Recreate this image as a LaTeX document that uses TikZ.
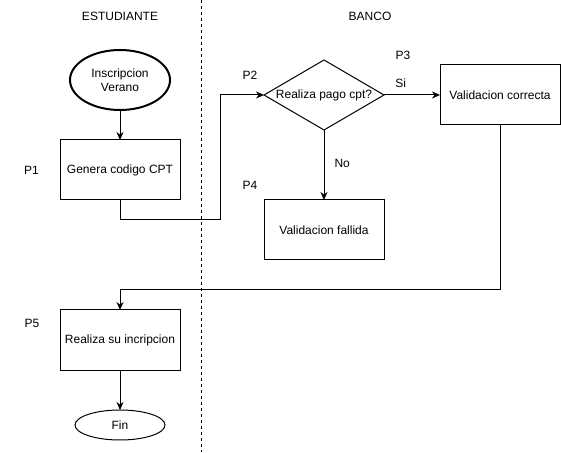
\documentclass[tikz,border=0pt]{standalone}
\usepackage{fontspec}
\setmainfont{Liberation Sans}
\usepackage{tikz}
\usetikzlibrary{shapes.geometric,arrows.meta,positioning}

\begin{document}
\begin{tikzpicture}[
    x=1pt, y=1pt,
    font=\fontsize{12pt}{14pt}\selectfont,
    terminal/.style={ellipse, draw, line width=1pt, inner sep=0pt, outer sep=0pt, text centered},
    process/.style={rectangle, draw, line width=1pt, minimum width=120pt, minimum height=60pt, outer sep=0pt, text centered},
    decision/.style={diamond, draw, line width=1pt, aspect=1.7, inner xsep=-10pt, inner ysep=0pt, minimum width=120pt, minimum height=70pt, outer sep=0pt},
    tag/.style={inner sep=0pt},
    arrow/.style={-{Stealth[length=8pt,width=7pt]}, line width=1pt},
    lane/.style={dash pattern=on 3pt off 3pt, line width=1pt}
]
\useasboundingbox (0,0) rectangle (561,452);

% Lanes
\node[tag] (estudiante) at (120,436) {ESTUDIANTE};
\node[tag] (banco) at (370,436) {BANCO};
\draw[lane] (201,452) -- (201,0);

% Student side
\node[terminal, line width=2pt, minimum width=100pt, minimum height=60pt, align=center] (start) at (120,372) {Inscripcion\\Verano};
\node[process, below=30pt of start] (gen) {Genera codigo CPT};

% Bank side
\node[decision] (pago) at (324,357) {Realiza pago cpt?};
\node[process, right=56pt of pago] (ok) {Validacion correcta};
\node[process, below=70pt of pago] (fail) {Validacion fallida};

% Back to student
\node[process, below=110pt of gen] (insc) {Realiza su incripcion};
\node[terminal, minimum width=90pt, minimum height=30pt, below=40pt of insc] (fin) {Fin};

% Connections
\draw[arrow] (start) -- (gen);
\draw[arrow] (gen.south) -- ++(0,-20) -| ([xshift=-44pt]pago.west) -- (pago.west);
\draw[arrow] (pago.east) -- node[tag, pos=0.3, above=7pt] {Si} (ok.west);
\draw[arrow] (pago.south) -- node[tag, pos=0.48, right=10pt] {No} (fail.north);
\draw[arrow] (ok.south) |- ([yshift=20pt]insc.north) -- (insc.north);
\draw[arrow] (insc) -- (fin);

% Step labels
\node[tag, left=21pt of gen] (p1) {P1};
\node[tag] (p2) at (250,377) {P2};
\node[tag] (p3) at (403,397) {P3};
\node[tag] (p4) at (250,267) {P4};
\node[tag] (p5) at (32,129) {P5};

\end{tikzpicture}
\end{document}
